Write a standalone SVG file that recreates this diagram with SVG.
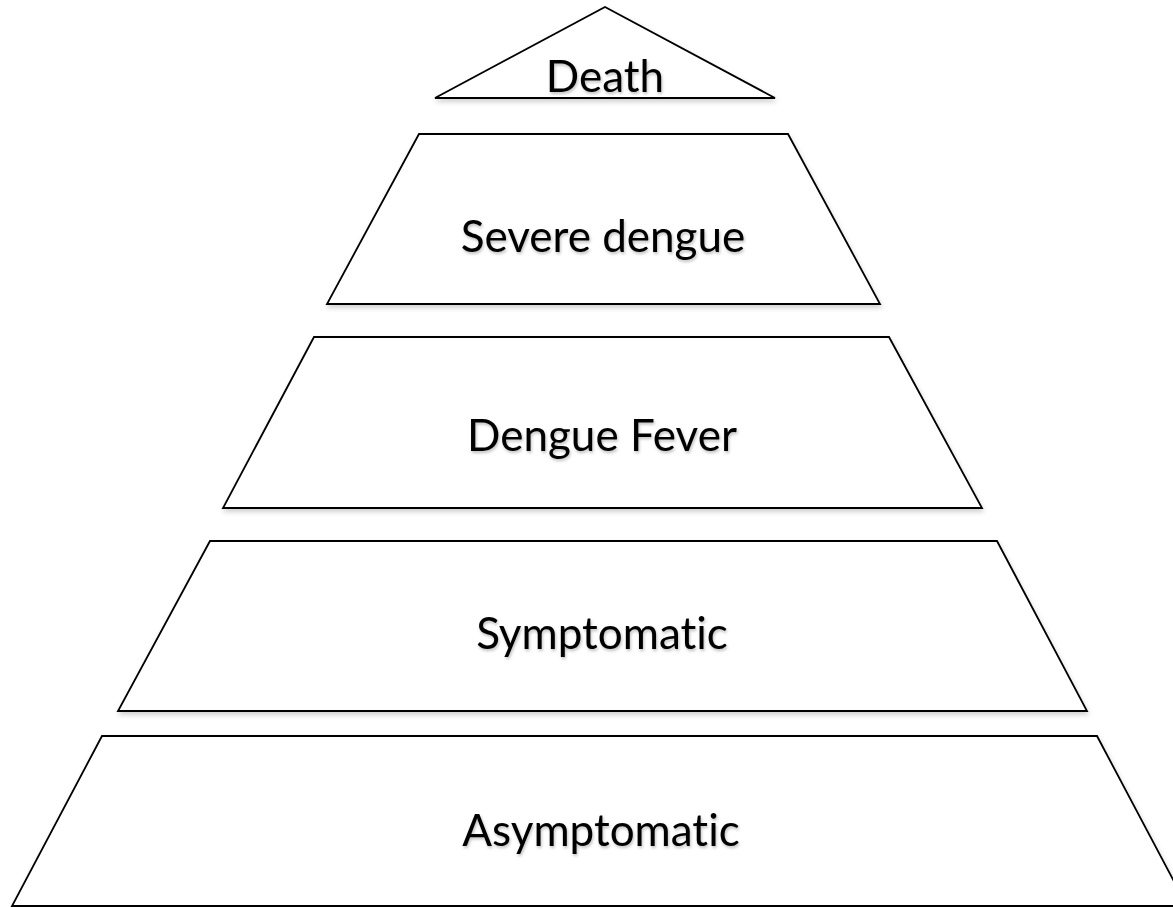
<svg xmlns="http://www.w3.org/2000/svg" width="1173" height="907" viewBox="0 0 1173 907">
  <defs>
    <filter id="sh" x="-10%" y="-10%" width="120%" height="130%">
      <feDropShadow dx="1" dy="3" stdDeviation="2.5" flood-color="#000" flood-opacity="0.18"/>
    </filter>
    <filter id="tsh" x="-10%" y="-20%" width="120%" height="150%">
      <feDropShadow dx="1" dy="2" stdDeviation="1.5" flood-color="#000" flood-opacity="0.25"/>
    </filter>
  </defs>
  <style>
    .shape { fill: #ffffff; stroke: #000000; stroke-width: 1.8; stroke-linejoin: miter; filter: url(#sh); }
    .label { font-family: Lato, "Liberation Sans", sans-serif; font-size: 44px; fill: #000000; text-anchor: middle; font-variant-ligatures: none; font-feature-settings: "liga" 0, "dlig" 0; filter: url(#tsh); }
  </style>
  <rect width="1173" height="907" fill="#ffffff"/>
  <g id="death">
    <polygon class="shape" points="605,7 775,98 435,98"/>
    <text class="label" x="605" y="92">Death</text>
  </g>
  <g id="severe-dengue">
    <polygon class="shape" points="419,134 788,134 880,304 327,304"/>
    <text class="label" x="603" y="252">Severe dengue</text>
  </g>
  <g id="dengue-fever">
    <polygon class="shape" points="314,337 889,337 982,508 223,508"/>
    <text class="label" x="602" y="451">Dengue Fever</text>
  </g>
  <g id="symptomatic">
    <polygon class="shape" points="210,541 997,541 1087,711 118,711"/>
    <text class="label" x="602" y="649">Symptomatic</text>
  </g>
  <g id="asymptomatic">
    <polygon class="shape" points="102,736 1097,736 1187,906 12,906"/>
    <text class="label" x="601" y="846">Asymptomatic</text>
  </g>
  <g id="connectors"/>
</svg>
